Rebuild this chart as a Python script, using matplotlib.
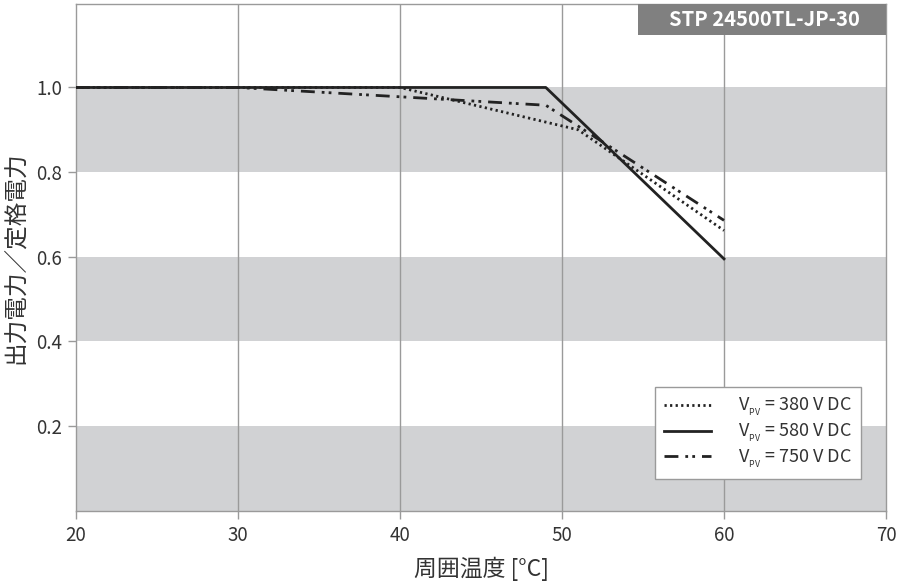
import matplotlib
matplotlib.use("Agg")
import matplotlib.pyplot as plt
from matplotlib.patches import Rectangle

plt.rcParams['font.family'] = ['Noto Sans CJK JP', 'DejaVu Sans']
plt.rcParams['mathtext.fontset'] = 'custom'
plt.rcParams['mathtext.rm'] = 'Noto Sans CJK JP'

# Data
temp_380 = [20, 40, 51, 60]
power_380 = [1.0, 1.0, 0.90, 0.662]
temp_580 = [20, 49, 60]
power_580 = [1.0, 1.0, 0.595]
temp_750 = [20, 30, 40, 49, 60]
power_750 = [1.0, 1.0, 0.978, 0.958, 0.686]

labels = [r'$\mathregular{V_{_{PV}}}$ = 380 V DC',
          r'$\mathregular{V_{_{PV}}}$ = 580 V DC',
          r'$\mathregular{V_{_{PV}}}$ = 750 V DC']
bands = [(0.0, 0.2), (0.4, 0.6), (0.8, 1.0)]
xticks = [20, 30, 40, 50, 60, 70]
yticks = [0.2, 0.4, 0.6, 0.8, 1.0]
ytick_labels = ['0.2', '0.4', '0.6', '0.8', '1.0']
title = 'STP 24500TL-JP-30'

fig = plt.figure(figsize=(9.05, 5.85), dpi=100)
ax = fig.add_axes([0.084, 0.127, 0.895, 0.866])
ax.set_xlim(20, 70)
ax.set_ylim(0, 1.197)

for lo, hi in bands:
    ax.axhspan(lo, hi, color='#d1d2d4', lw=0, zorder=0)
for x in xticks[1:-1]:
    ax.axvline(x, color='#9a9a9a', lw=1.0, zorder=1)

lc = '#222222'
ax.plot(temp_380, power_380, color=lc, lw=2.0, linestyle=(0, (0.8, 1.2)), label=labels[0], zorder=3)
ax.plot(temp_580, power_580, color=lc, lw=2.0, linestyle='-', label=labels[1], zorder=3)
ax.plot(temp_750, power_750, color=lc, lw=2.0, linestyle=(0, (5, 2.5, 1, 1.5, 1, 2.5)), label=labels[2], zorder=3)

ax.set_xticks(xticks)
ax.set_yticks(yticks)
ax.set_yticklabels(ytick_labels)
ax.tick_params(axis='both', colors='#9a9a9a', labelcolor='#333333', labelsize=13.5, length=6, width=1, pad=4)
for s in ax.spines.values():
    s.set_color('#9a9a9a')
    s.set_linewidth(1.0)

ax.set_xlabel('周囲温度 [°C]', fontsize=16.5, color='#333333', labelpad=8)
ax.set_ylabel('出力電力／定格電力', fontsize=17, color='#333333', labelpad=6)

leg = ax.legend(loc='lower right', bbox_to_anchor=(0.969, 0.063), borderaxespad=0,
                frameon=True, fancybox=False, framealpha=1.0, facecolor='white',
                edgecolor='#9a9a9a', fontsize=13, handlelength=2.6, labelspacing=0.2,
                borderpad=0.5, handletextpad=1.5)
leg.get_frame().set_linewidth(1.0)
for t in leg.get_texts():
    t.set_color('#333333')

ax.add_patch(Rectangle((0.694, 0.939), 0.306, 0.061, transform=ax.transAxes,
                       facecolor='#808080', edgecolor='none', zorder=5, clip_on=False))
ax.text(0.8505, 0.9695, title, transform=ax.transAxes, ha='center', va='center',
        fontsize=14.5, fontweight='bold', color='white', zorder=6)

fig.savefig('out.png', dpi=100)
